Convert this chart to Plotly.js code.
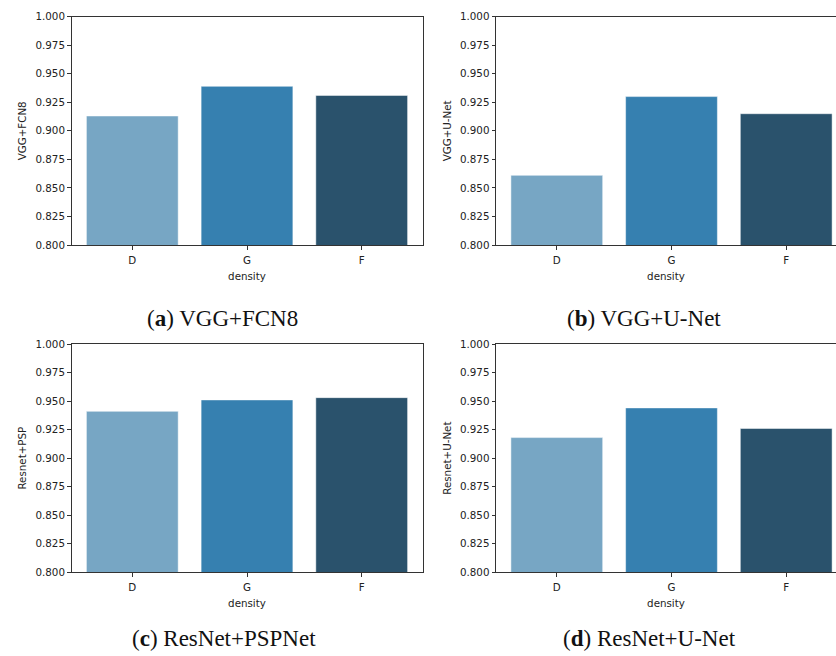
<!DOCTYPE html>
<html>
<head>
<meta charset="utf-8">
<script src="https://cdn.plot.ly/plotly-3.0.1.min.js"></script>
<style>html,body{margin:0;padding:0;background:#fff;}#chart{width:836px;height:656px;}</style>
</head>
<body>
<div id="chart"></div>
<script>
// ---- data ----
const categories = ["D", "G", "F"];
const vggFcn8 = [0.913, 0.939, 0.931];
const vggUnet = [0.861, 0.930, 0.915];
const resnetPsp = [0.941, 0.951, 0.953];
const resnetUnet = [0.918, 0.944, 0.926];
const yTitles = ["VGG+FCN8", "VGG+U-Net", "Resnet+PSP", "Resnet+U-Net"];
const captions = ["(<b>a</b>) VGG+FCN8", "(<b>b</b>) VGG+U-Net", "(<b>c</b>) ResNet+PSPNet", "(<b>d</b>) ResNet+U-Net"];
const xTitle = "density";
const barColors = ["#77a6c4", "#3680b0", "#2a526c"];

const series = [vggFcn8, vggUnet, resnetPsp, resnetUnet];
const W = 836, H = 656;
const xDomLeft = [71.5 / W, 422.5 / W];
const xDomRight = [496 / W, 1];
const yDomTop = [1 - 245 / H, 1 - 16.7 / H];
const yDomBot = [1 - 572.3 / H, 1 - 344 / H];
const doms = [
  [xDomLeft, yDomTop], [xDomRight, yDomTop],
  [xDomLeft, yDomBot], [xDomRight, yDomBot]
];
const tickFont = {family: "DejaVu Sans, sans-serif", size: 10.3, color: "#222"};

const traces = series.map((vals, i) => ({
  type: "bar",
  x: categories,
  y: vals,
  width: 0.8,
  marker: {color: barColors, line: {color: "rgba(255,255,255,0.6)", width: 0.8}},
  xaxis: "x" + (i === 0 ? "" : i + 1),
  yaxis: "y" + (i === 0 ? "" : i + 1),
  showlegend: false,
  hoverinfo: "x+y"
}));

const layout = {
  width: W, height: H,
  margin: {l: 0, r: 0, t: 0, b: 0},
  paper_bgcolor: "#fff",
  plot_bgcolor: "#fff",
  showlegend: false,
  annotations: []
};

doms.forEach((d, i) => {
  const sfx = i === 0 ? "" : String(i + 1);
  const right = (i % 2 === 1);
  layout["xaxis" + sfx] = {
    domain: d[0],
    anchor: "y" + sfx,
    type: "category",
    range: right ? [-0.53, 2.434] : [-0.53, 2.53],
    showline: true, linecolor: "#333", linewidth: 1, mirror: true,
    ticks: "outside", ticklen: 3.5, tickcolor: "#333", tickwidth: 1,
    showgrid: false, zeroline: false,
    tickfont: tickFont,
    ticklabelstandoff: 2,
    title: {text: xTitle, font: tickFont, standoff: 7},
    fixedrange: true
  };
  layout["yaxis" + sfx] = {
    domain: d[1],
    anchor: "x" + sfx,
    range: [0.8, 1.0],
    tickvals: [0.8, 0.825, 0.85, 0.875, 0.9, 0.925, 0.95, 0.975, 1.0],
    ticktext: ["0.800", "0.825", "0.850", "0.875", "0.900", "0.925", "0.950", "0.975", "1.000"],
    showline: true, linecolor: "#333", linewidth: 1, mirror: !right,
    ticks: "outside", ticklen: 3.5, tickcolor: "#333", tickwidth: 1,
    showgrid: false, zeroline: false,
    tickfont: tickFont,
    title: {text: yTitles[i], font: tickFont, standoff: 6},
    fixedrange: true
  };
});

const capPos = [[222, 318], [644, 318], [224, 638], [649, 638]];
captions.forEach((c, i) => {
  layout.annotations.push({
    text: c, xref: "paper", yref: "paper",
    x: capPos[i][0] / W, y: 1 - capPos[i][1] / H,
    xanchor: "center", yanchor: "middle", showarrow: false,
    font: {family: "Liberation Serif, serif", size: 23, color: "#111"}
  });
});

Plotly.newPlot("chart", traces, layout, {displayModeBar: false, staticPlot: true});
</script>
</body>
</html>
